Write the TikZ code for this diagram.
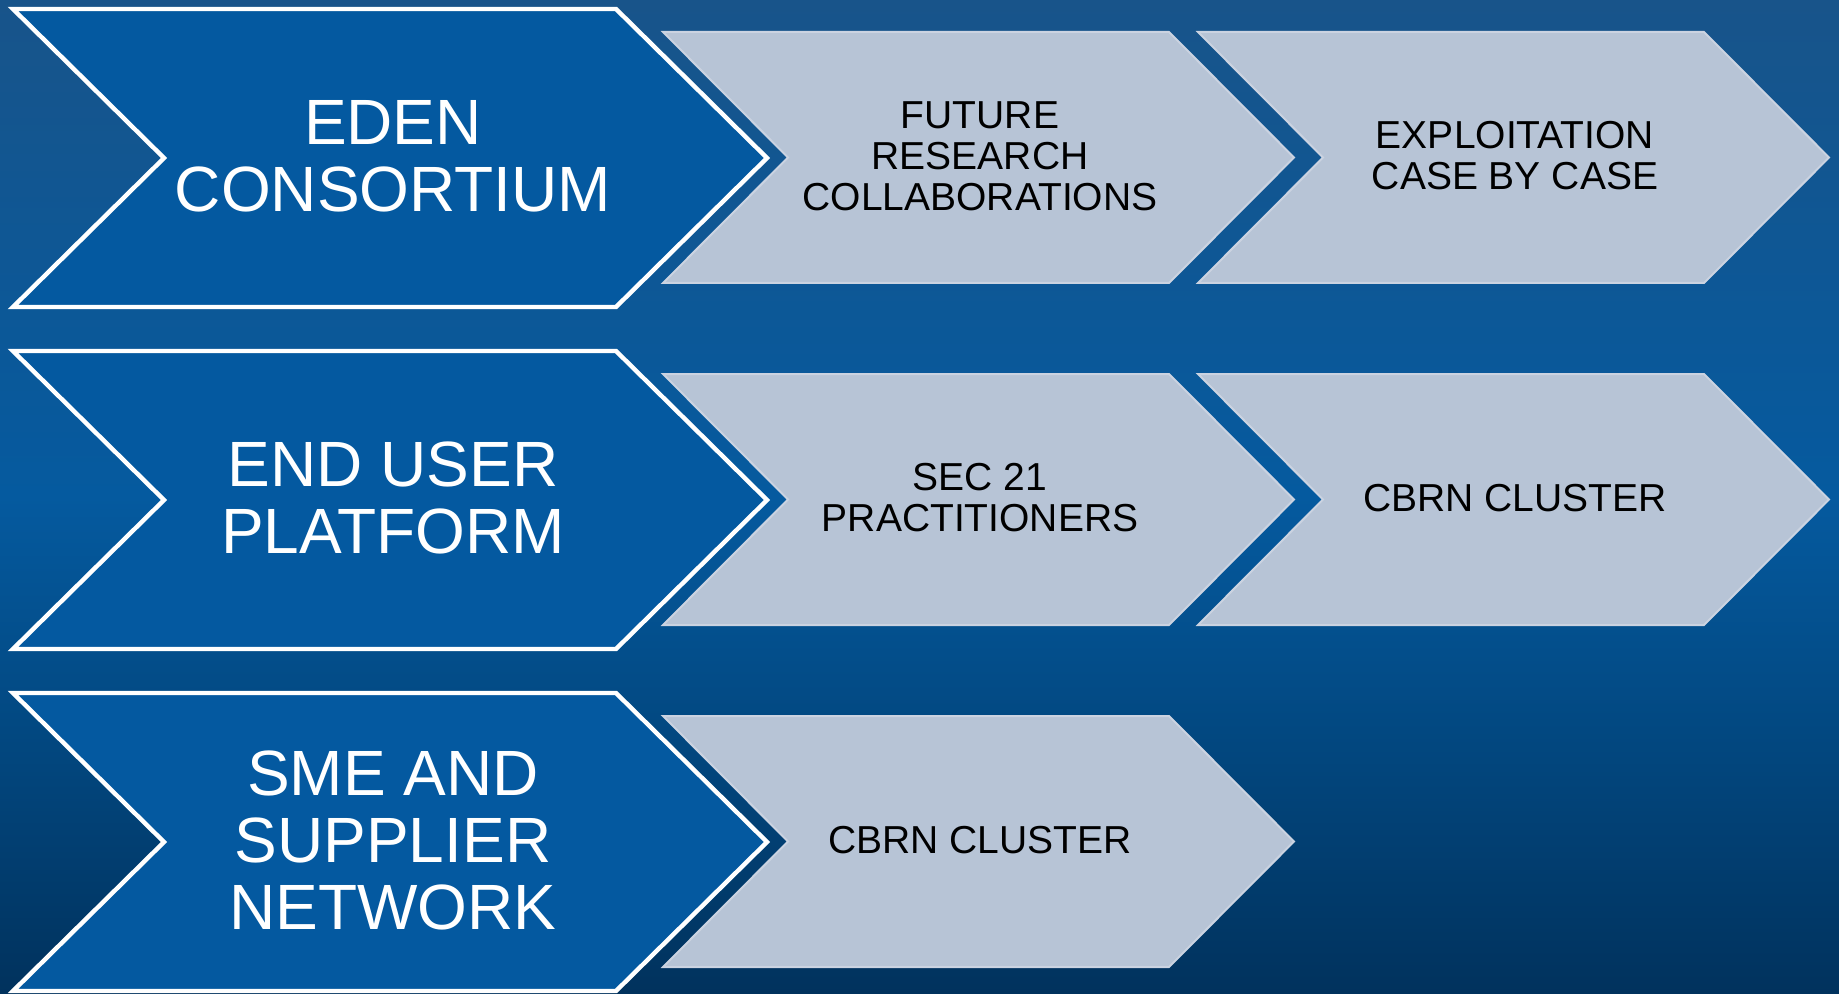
\documentclass[tikz,border=0pt]{standalone}
\usepackage{fontspec}
\setmainfont{Liberation Sans}
\usepackage{tikz}
\definecolor{bgtop}{HTML}{18548A}
\definecolor{bgmid}{HTML}{055A9F}
\definecolor{bglow}{HTML}{02477F}
\definecolor{bgbot}{HTML}{01325D}
\definecolor{chevblue}{HTML}{0459A0}
\definecolor{chevgrey}{HTML}{B7C4D6}
\definecolor{chevedge}{HTML}{CBD3E1}
\pgfdeclareverticalshading{bgshade}{100bp}{color(0bp)=(bgbot); color(25bp)=(bgbot);
    color(37.5bp)=(bglow); color(50bp)=(bgmid); color(75bp)=(bgtop); color(100bp)=(bgtop)}

\begin{document}
\begin{tikzpicture}[x=0.5pt,y=-0.5pt,
    bigchev/.style={fill=chevblue,draw=white,line width=2.2pt,line join=miter},
    lightchev/.style={fill=chevgrey,draw=chevedge,line width=1pt,line join=miter},
    bigtext/.style={text=white,align=center,inner sep=0pt,font=\fontsize{32}{33.5}\selectfont},
    smalltext/.style={text=black,align=center,inner sep=0pt,font=\fontsize{19.5}{20.5}\selectfont}]
    \shade[shading=bgshade] (0,0) rectangle (1839,994);
    \useasboundingbox (0,0) rectangle (1839,994);
    \foreach \r in {0,1,2} {
        \draw[bigchev] (13,9+342*\r) -- (616,9+342*\r) -- (767,158+342*\r)
            -- (616,307+342*\r) -- (13,307+342*\r) -- (164,158+342*\r) -- cycle;
    }
    \foreach \x/\r in {663/0,1198/0,663/1,1198/1,663/2} {
        \draw[lightchev] (\x,32+342*\r) -- (\x+506,32+342*\r) -- (\x+631,157.5+342*\r)
            -- (\x+506,283+342*\r) -- (\x,283+342*\r) -- (\x+125,157.5+342*\r) -- cycle;
    }
    \node[bigtext] (eden) at (393,156) {EDEN\\CONSORTIUM};
    \node[bigtext] (enduser) at (393,498) {END USER\\PLATFORM};
    \node[bigtext] (sme) at (393,840) {SME AND\\SUPPLIER\\NETWORK};
    \node[smalltext] (future) at (980,156) {FUTURE\\RESEARCH\\COLLABORATIONS};
    \node[smalltext] (exploit) at (1515,156) {EXPLOITATION\\CASE BY CASE};
    \node[smalltext] (sec) at (980,498) {SEC 21\\PRACTITIONERS};
    \node[smalltext] (cbrnone) at (1515,498) {CBRN CLUSTER};
    \node[smalltext] (cbrntwo) at (980,840) {CBRN CLUSTER};
\end{tikzpicture}
\end{document}
